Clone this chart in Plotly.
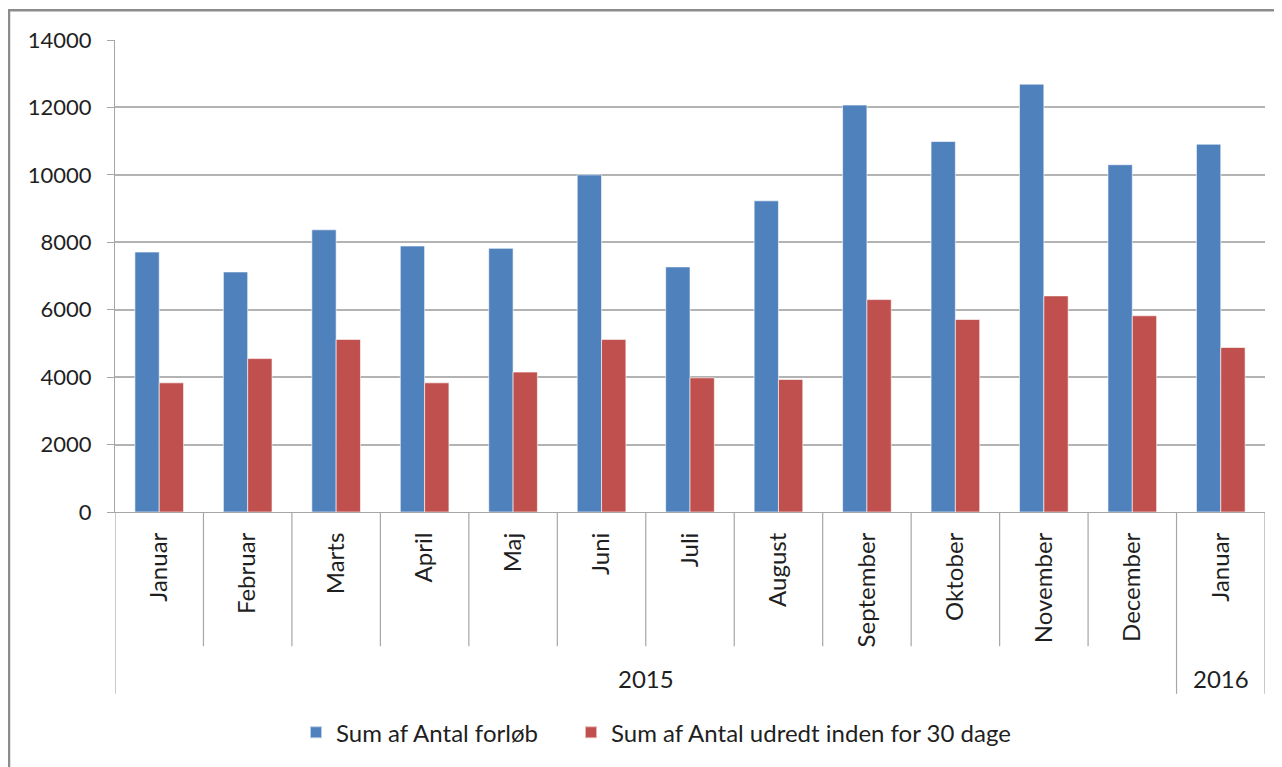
import plotly.graph_objects as go

months = ["Januar", "Februar", "Marts", "April", "Maj", "Juni", "Juli",
          "August", "September", "Oktober", "November", "December", "Januar"]
years = ["2015"] * 12 + ["2016"]
forloeb = [7710, 7120, 8370, 7890, 7820, 10000, 7270, 9230, 12070, 10990, 12690, 10300, 10910]
udredt = [3830, 4550, 5120, 3830, 4150, 5120, 3980, 3930, 6300, 5710, 6410, 5820, 4880]
yticks = [0, 2000, 4000, 6000, 8000, 10000, 12000, 14000]

FONT = "Lato"
TXT = "#1f1f1f"
pos = list(range(len(months)))

# page offset from the browser's default body margin
OFF = 8
PL, PT, PW, PH = 115, 40, 1150, 475  # plot area in page pixels

def py(page_y):
    return (PT + PH - page_y) / PH

def px(page_x):
    return (page_x - PL) / PW

fig = go.Figure()
fig.add_trace(go.Bar(x=pos, y=forloeb, name="Sum af Antal forløb", legend="legend",
                     marker=dict(color="#4F81BD", line=dict(color="rgba(255,255,255,0.6)", width=1))))
fig.add_trace(go.Bar(x=pos, y=udredt, name="Sum af Antal udredt inden for 30 dage", legend="legend2",
                     marker=dict(color="#C0504D", line=dict(color="rgba(255,255,255,0.6)", width=1))))

shapes = []
for i in range(len(months) + 1):
    xb = i - 0.5
    y1 = py(698) if i in (0, 12, 13) else py(650)
    shapes.append(dict(type="line", xref="x", yref="paper", x0=xb, x1=xb, y0=0, y1=y1,
                       line=dict(color="#a6a6a6", width=1.2)))
# outer chart border
shapes.append(dict(type="line", xref="paper", yref="paper",
                   x0=px(9), x1=px(9), y0=py(10), y1=py(780),
                   line=dict(color="#8c8c8c", width=2.5)))
shapes.append(dict(type="line", xref="paper", yref="paper",
                   x0=px(8), x1=px(1300), y0=py(10), y1=py(10),
                   line=dict(color="#8c8c8c", width=2.5)))

annotations = []
groups = {}
for i, yv in enumerate(years):
    groups.setdefault(yv, []).append(i)
for yv, idx in groups.items():
    annotations.append(dict(x=(idx[0] + idx[-1]) / 2, y=py(683), xref="x", yref="paper",
                            text=yv, showarrow=False, font=dict(family=FONT, size=24, color=TXT),
                            xanchor="center", yanchor="middle"))

legend_common = dict(orientation="h", xanchor="left", y=py(737), yanchor="middle",
                     font=dict(family=FONT, size=24, color=TXT), itemsizing="constant",
                     bgcolor="rgba(0,0,0,0)")

fig.update_layout(
    width=1282 - OFF, height=767 - OFF,
    margin=dict(l=PL - OFF, r=1282 - OFF - (PL - OFF) - PW, t=PT - OFF, b=767 - (PT + PH)),
    paper_bgcolor="white", plot_bgcolor="white",
    barmode="group", bargap=0.45, bargroupgap=0,
    font=dict(family=FONT, size=22, color=TXT),
    showlegend=True,
    legend=dict(x=px(296), **legend_common),
    legend2=dict(x=px(571), **legend_common),
    shapes=shapes, annotations=annotations,
)
fig.update_xaxes(type="linear", range=[-0.5, 12.5], tickvals=pos, ticktext=months,
                 tickangle=-90, showgrid=False, zeroline=False, showline=True,
                 linecolor="#a6a6a6", linewidth=1.2, ticks="", ticklabelstandoff=10,
                 tickfont=dict(family=FONT, size=24, color=TXT))
fig.update_yaxes(range=[0, 14000], tickvals=yticks, ticktext=[str(v) for v in yticks],
                 showgrid=True, gridcolor="#b3b3b3", gridwidth=1.5, zeroline=False,
                 showline=True, linecolor="#a6a6a6", linewidth=1.2, ticks="outside",
                 ticklen=7, tickcolor="#a6a6a6", ticklabelstandoff=11,
                 tickfont=dict(family=FONT, size=22, color=TXT))

fig.write_html("out.html")
